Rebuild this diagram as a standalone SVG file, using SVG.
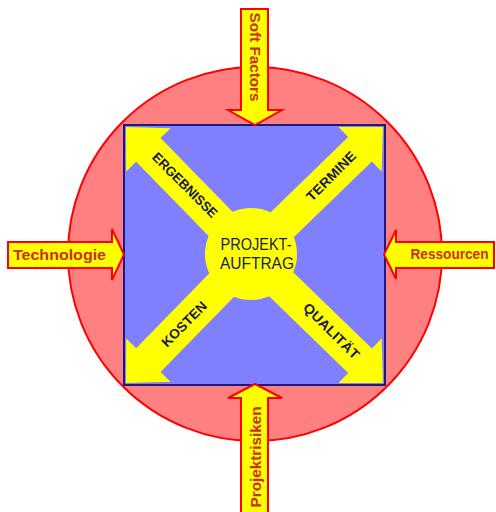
<svg xmlns="http://www.w3.org/2000/svg" width="496" height="512" viewBox="0 0 496 512">
<style>
.outer{fill:#ffff00;stroke:#ff0000;stroke-width:2;stroke-linejoin:miter}
.otxt{font-family:"Liberation Sans",Arial,sans-serif;font-weight:bold;font-size:15.5px;fill:#c8301a;text-anchor:middle}
.inner{fill:#ffff00}
.itxt{font-family:"Liberation Sans",Arial,sans-serif;font-weight:bold;font-size:13.5px;fill:#1a1a50;text-anchor:middle}
.ctxt{font-family:"Liberation Sans",Arial,sans-serif;font-size:16px;fill:#1a1a50;text-anchor:middle}
</style>
<rect width="496" height="512" fill="#ffffff"/>
<g id="umfeld">
<circle cx="255" cy="254" r="187" fill="#ff8080" stroke="#ff0000" stroke-width="2"/>
</g>
<g id="projekt">
<rect x="124" y="125" width="261" height="260" fill="#8080ff"/>
</g>
<g id="connectors">
<g id="ergebnisse">
<polygon class="inner" points="263.2,243.1 160.5,138.0 170.5,128.2 126,127 126.2,171.6 136.2,161.8 238.8,266.9"/>
<text class="itxt" transform="translate(185,185) rotate(45)" y="4.8" textLength="86" lengthAdjust="spacingAndGlyphs">ERGEBNISSE</text>
</g>
<g id="termine">
<polygon class="inner" points="262.8,267.2 371.9,161.5 381.6,171.5 383,127 338.5,127.0 348.2,137.1 239.2,242.8"/>
<text class="itxt" transform="translate(331,176) rotate(-45)" y="4.8" textLength="64" lengthAdjust="spacingAndGlyphs">TERMINE</text>
</g>
<g id="kosten">
<polygon class="inner" points="263.2,266.9 160.5,372.0 170.5,381.8 126,383 126.2,338.4 136.2,348.2 238.8,243.1"/>
<text class="itxt" transform="translate(184,324) rotate(-45)" y="4.8" textLength="58" lengthAdjust="spacingAndGlyphs">KOSTEN</text>
</g>
<g id="qualitaet">
<polygon class="inner" points="239.2,267.2 348.2,372.9 338.5,383.0 383,383 381.6,338.5 371.9,348.5 262.8,242.8"/>
<text class="itxt" transform="translate(331.5,331) rotate(45)" y="4.8" textLength="73" lengthAdjust="spacingAndGlyphs">QUALITÄT</text>
</g>
</g>
<g id="projektauftrag">
<circle cx="251" cy="254" r="46" fill="#ffff00"/>
<text class="ctxt" x="256" y="250" textLength="71" lengthAdjust="spacingAndGlyphs">PROJEKT-</text>
<text class="ctxt" x="257" y="268.5" textLength="74" lengthAdjust="spacingAndGlyphs">AUFTRAG</text>
</g>
<rect x="124" y="125" width="261" height="260" fill="none" stroke="#1a1a80" stroke-width="2"/>
<g id="soft-factors">
<polygon class="outer" points="241,9 268,9 268,110 282,110 255,125 228,110 241,110"/>
<text class="otxt" transform="translate(255,57) rotate(90)" y="5.5" textLength="89" lengthAdjust="spacingAndGlyphs">Soft Factors</text>
</g>
<g id="projektrisiken">
<polygon class="outer" points="241,516 268,516 268,398 282,398 255,384 228,398 241,398"/>
<text class="otxt" transform="translate(255,457) rotate(-90)" y="5.5" textLength="101" lengthAdjust="spacingAndGlyphs">Projektrisiken</text>
</g>
<g id="technologie">
<polygon class="outer" points="8,242 112,242 112,229 124,254.5 112,280 112,268 8,268"/>
<text class="otxt" x="59.5" y="259.5" textLength="93" lengthAdjust="spacingAndGlyphs">Technologie</text>
</g>
<g id="ressourcen">
<polygon class="outer" points="494,242 396,242 396,230 384,254.5 396,279 396,268 494,268"/>
<text class="otxt" x="449.5" y="259" style="font-size:14.5px" textLength="78" lengthAdjust="spacingAndGlyphs">Ressourcen</text>
</g>
</svg>
